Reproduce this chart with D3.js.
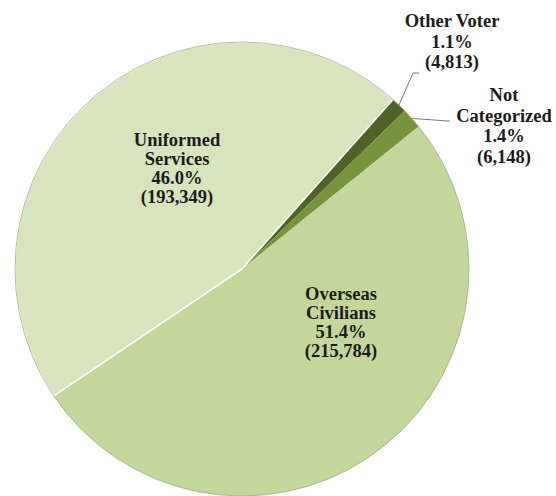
<!DOCTYPE html>
<html>
<head>
<meta charset="utf-8">
<script src="https://cdn.jsdelivr.net/npm/d3@7"></script>
<style>
  body { margin: 0; background: #fff; }
  svg text { font-family: "Liberation Serif", serif; font-weight: bold; font-size: 18.5px; fill: #1c1c1c; }
</style>
</head>
<body>
<svg width="556" height="496"></svg>
<script>
// data, in the order the slices run clockwise
var categories = ["Uniformed Services", "Other Voter", "Not Categorized", "Overseas Civilians"];
var counts = [193349, 4813, 6148, 215784];
var percents = ["46.0%", "1.1%", "1.4%", "51.4%"];
var labelLines = [["Uniformed", "Services"], ["Other Voter"], ["Not", "Categorized"], ["Overseas", "Civilians"]];
var colors = ["#d7e4bd", "#4f6228", "#77933c", "#c3d69b"];

var svg = d3.select("svg"),
    cx = 242, cy = 269, radius = 227,
    g = svg.append("g").attr("transform", "translate(" + cx + "," + cy + ")");

var fmt = d3.format(",");

var data = categories.map(function(c, i) {
  return {name: c, value: counts[i], pct: percents[i], lines: labelLines[i], color: colors[i]};
});

// first slice starts at about 8 o'clock and the rest follow clockwise
var startDeg = -124;
var pie = d3.pie()
    .sort(null)
    .value(function(d) { return d.value; })
    .startAngle(startDeg * Math.PI / 180)
    .endAngle((startDeg + 360) * Math.PI / 180);

var arc = d3.arc().innerRadius(0).outerRadius(radius);
var arcs = pie(data);

g.selectAll(".slice")
    .data(arcs)
  .enter().append("path")
    .attr("class", "slice")
    .attr("d", arc)
    .attr("fill", function(d) { return d.data.color; })
    .attr("stroke", "none");

// thin white edge on the big light slice
g.append("path")
    .attr("d", arc(arcs[0]))
    .attr("fill", "none")
    .attr("stroke", "#ffffff")
    .attr("stroke-width", 1.6);

// outline of the whole pie
g.append("circle")
    .attr("r", radius)
    .attr("fill", "none")
    .attr("stroke", "#9fae88")
    .attr("stroke-width", 0.8);

// label placement (offsets relative to pie centre)
var labelPos = [
  {x: -65, y: -123, outside: false},
  {x: 210, y: -242, outside: true, elbow: [171, -196], end: [177, -196]},
  {x: 262, y: -168, outside: true, elbow: [206, -148], end: [208, -148]},
  {x: 99, y: 31, outside: false}
];
var lineH = 19;

var labels = g.selectAll(".label")
    .data(arcs)
  .enter().append("text")
    .attr("class", "label")
    .attr("text-anchor", "middle")
    .attr("transform", function(d, i) { return "translate(" + labelPos[i].x + "," + labelPos[i].y + ")"; });

labels.each(function(d, i) {
  var t = d3.select(this);
  var lines = d.data.lines.concat([d.data.pct, "(" + fmt(d.data.value) + ")"]);
  var h = labelPos[i].outside ? 20.5 : lineH;
  lines.forEach(function(s, k) {
    t.append("tspan").attr("x", 0).attr("y", k * h).text(s);
  });
});

// leader lines for the two small slices
g.selectAll(".leader")
    .data(arcs.filter(function(d, i) { return labelPos[i].outside; }))
  .enter().append("polyline")
    .attr("class", "leader")
    .attr("fill", "none")
    .attr("stroke", "#6b6b6b")
    .attr("stroke-width", 0.9)
    .attr("points", function(d) {
      var i = arcs.indexOf(d);
      var a = (d.startAngle + d.endAngle) / 2;
      var p = [Math.sin(a) * radius, -Math.cos(a) * radius];
      return [p, labelPos[i].elbow, labelPos[i].end].map(function(q) { return q.join(","); }).join(" ");
    });
</script>
</body>
</html>
